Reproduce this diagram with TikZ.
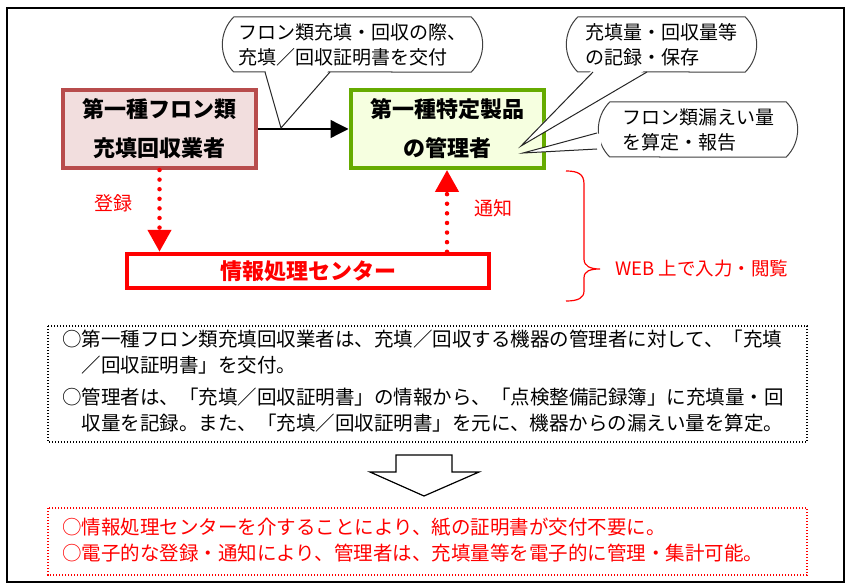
\documentclass[tikz,border=0pt]{standalone}
\usepackage{fontspec}
\setmainfont{Noto Sans CJK JP}
\usetikzlibrary{arrows.meta}
\usetikzlibrary{shapes.misc}

\begin{document}
\begin{tikzpicture}[x=1pt,y=-1pt,
        bigbox/.style={draw,line width=4pt,minimum width=193pt,minimum height=78pt,
            align=center,font=\fontsize{22}{39}\selectfont\bfseries},
        bubble/.style={draw=black!75,line width=1pt,fill=white,rounded rectangle,
            rounded rectangle arc length=90,minimum height=55pt,align=left,
            font=\fontsize{19}{25}\selectfont},
        tail/.style={draw=black!85,line width=1pt,line join=miter},
        redflow/.style={red,line width=4.5pt,line cap=round,dash pattern=on 0pt off 9.6pt,
            -{Triangle[length=22pt,width=23pt]}},
        dotbox/.style={line width=1.3pt,dash pattern=on 1.3pt off 1.7pt},
        listtext/.style={anchor=north west,align=left,inner sep=0pt,
            font=\fontsize{19.5}{26}\selectfont}]
        \useasboundingbox (0,0) rectangle (851,588);
        \draw[line width=1.2pt] (7,8) rectangle (844,582);

        % upper part
        \node[bigbox,draw=red!60!black!70,fill=red!60!black!13] (gyosha) at (159.5,129)
            {第一種フロン類\\充填回収業者};
        \node[bigbox,draw=green!45!black!60!yellow,fill=green!30!yellow!12] (kanri) at (447,129)
            {第一種特定製品\\の管理者};
        \node[draw=red,line width=4.5pt,minimum width=362pt,minimum height=34pt,
            text=red,font=\fontsize{22}{26}\selectfont\bfseries] (center) at (308,271)
            {情報処理センター};

        \draw[line width=1.3pt,-{Triangle[length=18pt,width=18pt]}] (gyosha) -- (kanri);
        \draw[redflow] (gyosha.south) -- (gyosha |- center.north);
        \draw[redflow] (kanri |- center.north) -- (kanri.south);
        \node[text=red,font=\fontsize{19}{22}\selectfont] (toroku) at (113,203) {登録};
        \node[text=red,font=\fontsize{19}{22}\selectfont] (tsuchi) at (493,208) {通知};

        % callouts
        \node[bubble,minimum width=267pt] (fukidashi1) at (352.5,44.5)
            {フロン類充填・回収の際、\\充填／回収証明書を交付};
        \node[bubble,minimum width=197pt] (fukidashi2) at (661.5,44.5)
            {充填量・回収量等\\の記録・保存};
        \node[bubble,minimum width=206pt] (fukidashi3) at (698,129.5)
            {フロン類漏えい量\\を算定・報告};
        \coordinate (tip1) at (281,128);
        \coordinate (tip2) at (521,146);
        \coordinate (tip3) at (523,153);
        \fill[white] (265,69) -- (tip1) -- (330,69) -- cycle;
        \draw[tail] (265,72) -- (tip1) -- (330,72);
        \fill[white] (593,69) -- (tip2) -- (647,69) -- cycle;
        \draw[tail] (593,72) -- (tip2) -- (647,72);
        \fill[white] (601,133) -- (tip3) -- (601,149) -- cycle;
        \draw[tail] (597,133) -- (tip3) -- (597,149);

        % brace
        \draw[red,line width=1.2pt] (566,171) .. controls (578,171) and (584,174) .. (584,184)
            -- (584,259) .. controls (584,266) and (590,269) .. (600,269)
            .. controls (590,269) and (584,271) .. (584,278) -- (584,291)
            .. controls (584,298) and (578,301) .. (566,301);
        \node[anchor=west,text=red,font=\fontsize{18.5}{22}\selectfont] (web) at (612,268)
            {WEB 上で入力・閲覧};

        % lower part
        \draw[dotbox] (48,326) rectangle (807,442);
        \node[listtext] (point1) at (62,330)
            {○第一種フロン類充填回収業者は、充填／回収する機器の管理者に対して、「充填\\
            \hspace{19.5pt}／回収証明書」を交付。};
        \node[listtext] (point2) at (62,388)
            {○管理者は、「充填／回収証明書」の情報から、「点検整備記録簿」に充填量・回\\
            \hspace{19.5pt}収量を記録。また、「充填／回収証明書」を元に、機器からの漏えい量を算定。};

        \draw[line width=1.2pt] (396,455) -- (452,455) -- (452,472) -- (479,472)
            -- (424,496) -- (370,472) -- (396,472) -- cycle;

        \draw[dotbox,red] (48,508) rectangle (807,575);
        \node[listtext,text=red] (point3) at (62,518)
            {○情報処理センターを介することにより、紙の証明書が交付不要に。\\
            ○電子的な登録・通知により、管理者は、充填量等を電子的に管理・集計可能。};
\end{tikzpicture}
\end{document}
